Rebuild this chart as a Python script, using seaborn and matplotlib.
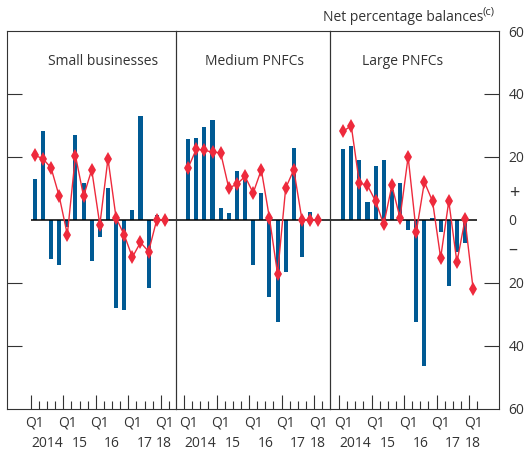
import numpy as np
import pandas as pd
import seaborn as sns
import matplotlib.pyplot as plt

# Quarterly data, 2014 Q1 to 2018 Q1
quarters = ['2014 Q1', '2014 Q2', '2014 Q3', '2014 Q4',
            '2015 Q1', '2015 Q2', '2015 Q3', '2015 Q4',
            '2016 Q1', '2016 Q2', '2016 Q3', '2016 Q4',
            '2017 Q1', '2017 Q2', '2017 Q3', '2017 Q4',
            '2018 Q1']

small_bars = [13.1, 28.1, -12.5, -14.5, -2.4, 26.9, 11.7, -13.0, -5.5, 10.2,
              -28.1, -28.6, 3.0, 32.9, -21.8, 1.6, 0.0]
small_line = [20.5, 19.4, 16.5, 7.5, -4.7, 20.4, 7.5, 15.9, -1.6, 19.4,
              0.6, -4.8, -11.9, -7.2, -10.1, 0.0, 0.0]
medium_bars = [25.6, 26.0, 29.5, 31.6, 3.9, 2.1, 15.4, 12.5, -14.5, 8.5,
               -24.4, -32.4, -16.7, 22.8, -11.7, 2.6, 0.0]
medium_line = [16.5, 22.4, 22.1, 21.5, 21.3, 10.1, 11.3, 13.8, 8.5, 15.9,
               0.6, -17.2, 10.1, 15.9, 0.0, 0.0, 0.0]
large_bars = [22.4, 23.5, 18.9, 5.8, 17.1, 18.9, 9.4, 11.7, -3.4, -32.6,
              -46.6, 0.7, -3.9, -20.9, -10.3, -7.4, 0.0]
large_line = [28.1, 29.9, 11.7, 10.9, 5.9, -1.5, 10.9, 0.6, 20.0, -3.9,
              12.0, 5.9, -12.1, 5.9, -13.5, 0.1, -22.1]

panel_titles = ['Small businesses', 'Medium PNFCs', 'Large PNFCs']
year_labels = ['2014', '15', '16', '17', '18']

BLUE = '#005a94'
RED = '#ee2a3c'
DARK = '#333333'
FS = 10

sns.set_style('white')
plt.rcParams['font.family'] = ['Open Sans', 'DejaVu Sans']

fig = plt.figure(figsize=(5.26, 4.53), dpi=100)
bottom, height = 0.0982, 0.8333
boxes = [(0.01331, 0.3213), (0.3346, 0.2928), (0.6274, 0.3213)]
xlims = [(-2.92, 17.87), (-0.99, 17.95), (-1.11, 19.68)]
title_x = [0.57, 0.51, 0.43]
series = [(small_bars, small_line), (medium_bars, medium_line), (large_bars, large_line)]

for k, ((left, width), (bars, line)) in enumerate(zip(boxes, series)):
    ax = fig.add_axes([left, bottom, width, height])
    ax.patch.set_alpha(0)
    df = pd.DataFrame({'quarter': quarters, 'pos': np.arange(len(quarters)) + 0.5,
                       'bars': bars, 'line': line})
    sns.barplot(data=df, x='pos', y='bars', native_scale=True, width=0.5,
                color=BLUE, saturation=1, errorbar=None, linewidth=0, ax=ax)
    sns.lineplot(data=df, x='pos', y='line', color=RED, linewidth=1.0,
                 marker='d', markersize=7, markeredgewidth=0, ax=ax)

    x0, x1 = xlims[k]
    ax.set_xlim(x0, x1)
    ax.set_ylim(-60, 60)
    ax.hlines(0, 0 if k == 0 else x0, 17 if k == 2 else x1, color='black', lw=1.1, zorder=1)

    # quarter ticks at boundaries, longer ones at Q1
    ax.set_xticks(np.arange(0, 17, 4))
    ax.set_xticks(np.arange(0, 18), minor=True)
    ax.tick_params(axis='x', which='major', direction='in', length=10, width=0.8,
                   color=DARK, bottom=True, top=False, labelbottom=False)
    ax.tick_params(axis='x', which='minor', direction='in', length=5.5, width=0.8,
                   color=DARK, bottom=True, top=False)
    ax.set_xlabel('')
    ax.set_ylabel('')

    trans = ax.get_xaxis_transform()
    for q in range(0, 17, 4):
        ax.text(q + 0.5, -0.039, 'Q1', transform=trans, ha='center', va='center',
                fontsize=FS, color=DARK)
    for yr, xpos in zip(year_labels, [2, 6, 10, 14, 16.4]):
        ax.text(xpos, -0.092, yr, transform=trans, ha='center', va='center',
                fontsize=FS, color=DARK)

    ax.text(title_x[k], 0.92, panel_titles[k], transform=ax.transAxes,
            ha='center', va='center', fontsize=FS, color=DARK)

    for sp in ax.spines.values():
        sp.set_visible(True)
        sp.set_color(DARK)
        sp.set_linewidth(0.8)

    if k == 0:
        ax.set_yticks([-40, -20, 20, 40])
        ax.tick_params(axis='y', direction='in', length=11, width=0.8, color=DARK,
                       left=True, right=False, labelleft=False)
    elif k == 1:
        ax.set_yticks([])
    else:
        yvals = [-60, -40, -20, -9, 0, 9, 20, 40, 60]
        ax.set_yticks(yvals)
        ax.set_yticklabels(['60', '40', '20', '\u2013', '0', '+', '20', '40', '60'])
        ax.tick_params(axis='y', direction='in', length=11, width=0.8, color=DARK,
                       left=False, right=True, labelleft=False, labelright=True,
                       pad=7, labelsize=FS, labelcolor=DARK)
        for val, t, lab in zip(yvals, ax.yaxis.get_major_ticks(), ax.get_yticklabels()):
            if val in (-60, -9, 0, 9, 60):
                t.tick2line.set_visible(False)
            if val in (-9, 9):
                lab.set_fontsize(13)
        unit = ax.text(0.905, 1.035, 'Net percentage balances', transform=ax.transAxes,
                       ha='right', va='center', fontsize=FS, color=DARK)
        ax.annotate('(c)', xy=(1.0, 0.55), xycoords=unit, ha='left', va='bottom',
                    fontsize=8, color=DARK)

fig.savefig('out.png', dpi=100)
